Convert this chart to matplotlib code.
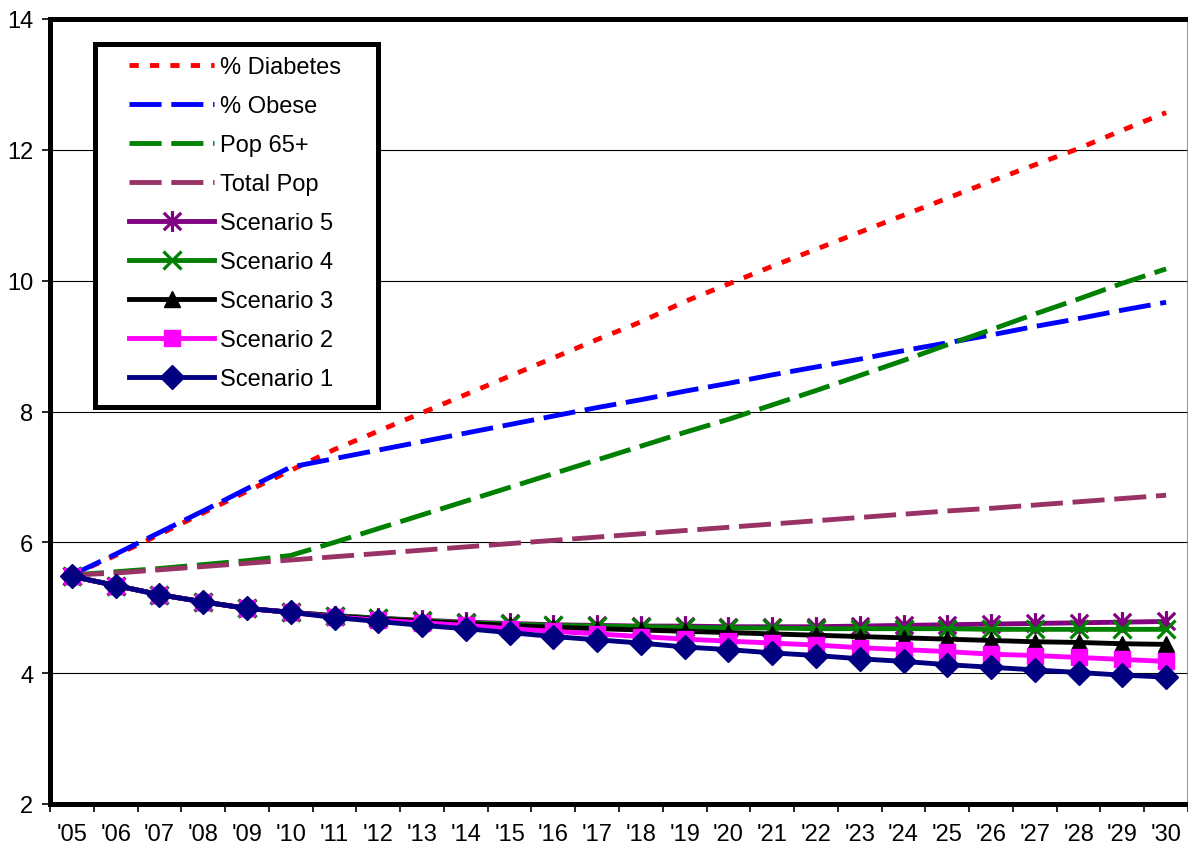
import matplotlib
matplotlib.use("Agg")
import matplotlib.pyplot as plt
from matplotlib.path import Path
from matplotlib.patches import Rectangle

plt.rcParams['font.family'] = ['Liberation Sans', 'DejaVu Sans']

years = ["'05", "'06", "'07", "'08", "'09", "'10", "'11", "'12", "'13", "'14",
         "'15", "'16", "'17", "'18", "'19", "'20", "'21", "'22", "'23", "'24",
         "'25", "'26", "'27", "'28", "'29", "'30"]

diabetes = [5.5, 5.8, 6.12, 6.45, 6.78, 7.1, 7.42, 7.7, 7.98, 8.26,
            8.54, 8.82, 9.1, 9.37, 9.68, 9.95, 10.22, 10.48, 10.74, 11.0,
            11.26, 11.52, 11.77, 12.02, 12.3, 12.57]
obese = [5.5, 5.82, 6.15, 6.48, 6.82, 7.15, 7.28, 7.41, 7.54, 7.67,
         7.8, 7.93, 8.06, 8.18, 8.31, 8.43, 8.56, 8.68, 8.8, 8.93,
         9.05, 9.17, 9.3, 9.42, 9.55, 9.67]
pop65 = [5.5, 5.55, 5.6, 5.66, 5.72, 5.8, 6.0, 6.21, 6.42, 6.63,
         6.84, 7.05, 7.26, 7.47, 7.68, 7.88, 8.1, 8.32, 8.55, 8.78,
         9.02, 9.25, 9.49, 9.72, 9.96, 10.18]
total_pop = [5.5, 5.53, 5.58, 5.63, 5.68, 5.73, 5.78, 5.83, 5.88, 5.93,
             5.98, 6.03, 6.08, 6.13, 6.18, 6.23, 6.28, 6.33, 6.38, 6.43,
             6.48, 6.52, 6.57, 6.62, 6.67, 6.72]

scenario1 = [5.48, 5.34, 5.2, 5.09, 4.99, 4.93, 4.85, 4.79, 4.73, 4.68,
             4.62, 4.56, 4.51, 4.46, 4.40, 4.36, 4.31, 4.27, 4.22, 4.18,
             4.13, 4.09, 4.05, 4.01, 3.97, 3.94]
scenario2 = [5.48, 5.34, 5.2, 5.09, 4.99, 4.93, 4.86, 4.81, 4.77, 4.73,
             4.68, 4.64, 4.6, 4.56, 4.52, 4.49, 4.46, 4.43, 4.39, 4.36,
             4.33, 4.29, 4.27, 4.24, 4.21, 4.18]
scenario3 = [5.48, 5.34, 5.2, 5.09, 4.99, 4.93, 4.87, 4.83, 4.79, 4.76,
             4.73, 4.70, 4.68, 4.66, 4.64, 4.62, 4.60, 4.58, 4.56, 4.54,
             4.52, 4.50, 4.48, 4.47, 4.45, 4.44]
scenario4 = [5.48, 5.34, 5.2, 5.09, 4.99, 4.93, 4.88, 4.84, 4.8, 4.77,
             4.75, 4.73, 4.72, 4.71, 4.70, 4.69, 4.69, 4.68, 4.68, 4.68,
             4.68, 4.67, 4.67, 4.67, 4.67, 4.67]
scenario5 = [5.48, 5.34, 5.2, 5.09, 4.99, 4.93, 4.88, 4.84, 4.81, 4.78,
             4.76, 4.74, 4.73, 4.72, 4.72, 4.71, 4.71, 4.71, 4.72, 4.73,
             4.74, 4.75, 4.76, 4.77, 4.78, 4.79]

W, H = 1188, 845
fig = plt.figure(figsize=(W / 100, H / 100), dpi=100)
ax = fig.add_axes([50 / W, (H - 805) / H, (1188 - 50) / W, (805 - 20) / H])

x = list(range(len(years)))

# horizontal gridlines
for g in [4, 6, 8, 10, 12]:
    ax.axhline(g, color='black', lw=0.8, zorder=1)

# asterisk marker: an X with a vertical stroke
star = Path([(-1, -1), (1, 1), (-1, 1), (1, -1), (0, -1.2), (0, 1.2)],
            [Path.MOVETO, Path.LINETO, Path.MOVETO, Path.LINETO, Path.MOVETO, Path.LINETO])

lw = 3.5
ax.plot(x, diabetes, color='#ff0000', lw=lw, dashes=(1.9, 2.3), label='% Diabetes', zorder=3)
ax.plot(x, obese, color='#0000ff', lw=lw, dashes=(6.6, 2.0), label='% Obese', zorder=3)
ax.plot(x, pop65, color='#008000', lw=lw, dashes=(6.6, 2.0), label='Pop 65+', zorder=3)
ax.plot(x, total_pop, color='#993366', lw=lw, dashes=(6.6, 2.0), label='Total Pop', zorder=3)

ax.plot(x, scenario5, color='#800080', lw=lw, marker=star, ms=15, mew=2.3,
        mec='#800080', label='Scenario 5', zorder=4)
ax.plot(x, scenario4, color='#008000', lw=lw, marker='x', ms=13, mew=2.3,
        label='Scenario 4', zorder=5)
ax.plot(x, scenario3, color='black', lw=lw, marker='^', ms=12,
        label='Scenario 3', zorder=6)
ax.plot(x, scenario2, color='#ff00ff', lw=lw, marker='s', ms=11.5,
        label='Scenario 2', zorder=7)
ax.plot(x, scenario1, color='#000080', lw=lw, marker='D', ms=12,
        label='Scenario 1', zorder=8)

ax.set_ylim(2, 14)
ax.set_yticks([2, 4, 6, 8, 10, 12, 14])
ax.set_xlim(-0.5, len(years) - 0.5)
ax.set_xticks([i + 0.5 for i in range(-1, len(years))])
ax.set_xticklabels([])
ax.set_xticks(x, minor=True)
ax.set_xticklabels(years, minor=True)
ax.tick_params(axis='x', which='minor', length=0, pad=14, labelsize=17)
ax.tick_params(axis='x', which='major', length=6, width=1.2, direction='out')
ax.tick_params(axis='y', length=6, width=1.2, direction='out', labelsize=17, pad=6)

for side in ['left', 'bottom', 'top']:
    ax.spines[side].set_linewidth(3.6)
    ax.spines[side].set_color('black')
ax.spines['right'].set_linewidth(1.2)
ax.spines['right'].set_color('#808080')

# legend box drawn as its own rectangle, entries placed inside it
box = Rectangle((95 / W, 1 - 408 / H), (378 - 95) / W, (408 - 45) / H,
                transform=fig.transFigure, facecolor='white', edgecolor='black',
                lw=3.6, zorder=9)
fig.patches.append(box)

handles, labels = ax.get_legend_handles_labels()
leg = fig.legend(handles, labels, loc='upper left',
                 bbox_to_anchor=(129 / W, 1 - 57 / H), bbox_transform=fig.transFigure,
                 fontsize=17, frameon=False, borderaxespad=0, borderpad=0,
                 handlelength=3.6, handletextpad=0.25, labelspacing=0.72)
leg.set_zorder(10)

fig.savefig('out.png', dpi=100)
